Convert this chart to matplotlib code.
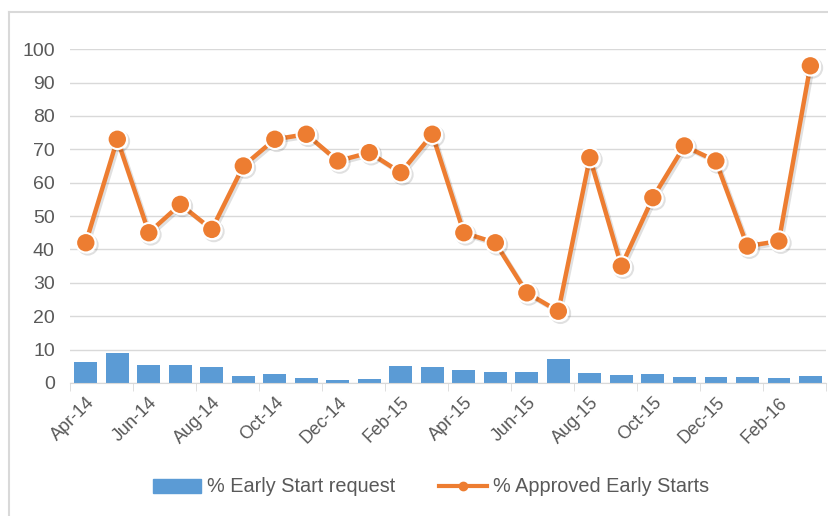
import matplotlib
matplotlib.use("Agg")
import matplotlib.pyplot as plt
import matplotlib.patheffects as pe
from matplotlib.lines import Line2D

months = ['Apr-14', 'May-14', 'Jun-14', 'Jul-14', 'Aug-14', 'Sep-14', 'Oct-14', 'Nov-14',
          'Dec-14', 'Jan-15', 'Feb-15', 'Mar-15', 'Apr-15', 'May-15', 'Jun-15', 'Jul-15',
          'Aug-15', 'Sep-15', 'Oct-15', 'Nov-15', 'Dec-15', 'Jan-16', 'Feb-16', 'Mar-16']
early_start_request = [6.3, 9.0, 5.3, 5.3, 4.7, 2.0, 2.8, 1.5, 0.8, 1.1, 5.0, 4.7,
                       4.0, 3.4, 3.4, 7.3, 3.1, 2.4, 2.8, 1.7, 1.7, 1.7, 1.4, 2.0]
approved_early_starts = [42, 73, 45, 53.5, 46, 65, 73, 74.5, 66.5, 69, 63, 74.5,
                         45, 42, 27, 21.5, 67.5, 35, 55.5, 71, 66.5, 41, 42.5, 95]

blue = '#5B9BD5'
orange = '#ED7D31'
grey_text = '#595959'

plt.rcParams['font.family'] = ['Liberation Sans', 'DejaVu Sans']

fig = plt.figure(figsize=(8.29, 5.16), dpi=100)
ax = fig.add_axes([0.0845, 0.2578, 0.912, 0.647])

x = list(range(len(months)))
ax.bar(x, early_start_request, width=0.72, color=blue, zorder=2)
ax.plot(x, approved_early_starts, color=orange, lw=3.2, marker='o', markersize=14,
        markerfacecolor=orange, markeredgecolor='white', markeredgewidth=1.5, zorder=3,
        path_effects=[pe.SimpleLineShadow(offset=(1.5, -1.5), alpha=0.12, shadow_color='black'),
                      pe.Normal()])

ax.set_ylim(0, 100)
ax.set_xlim(-0.5, len(months) - 0.5)
ax.set_yticks(range(0, 101, 10))
ax.yaxis.grid(True, color='#D9D9D9', lw=1)
ax.set_axisbelow(True)

ax.set_xticks(x[::2])
ax.set_xticklabels(months[::2], rotation=45, ha='right', rotation_mode='anchor')
ax.set_xticks([i - 0.5 for i in range(0, len(months) + 1, 2)], minor=True)
ax.tick_params(axis='x', which='major', length=0, pad=8, labelsize=13, colors=grey_text)
ax.tick_params(axis='x', which='minor', length=6, color='#D9D9D9')
ax.tick_params(axis='y', length=0, pad=11, labelsize=14, colors=grey_text)

for s in ['top', 'right', 'left']:
    ax.spines[s].set_visible(False)
ax.spines['bottom'].set_color('#D9D9D9')

# chart frame (left and top edges visible)
fig.add_artist(Line2D([9 / 829, 9 / 829], [0, 1 - 12 / 516], color='#D9D9D9', lw=1.5))
fig.add_artist(Line2D([9 / 829, 1], [1 - 12 / 516, 1 - 12 / 516], color='#D9D9D9', lw=1.5))

handles = [plt.Rectangle((0, 0), 1, 1, color=blue),
           Line2D([], [], color=orange, lw=3, marker='o', markersize=6,
                  markerfacecolor=orange, markeredgecolor=orange)]
fig.legend(handles, ['% Early Start request', '% Approved Early Starts'],
           loc='center', bbox_to_anchor=(0.52, 1 - 487 / 516), ncol=2, frameon=False,
           fontsize=14.3, labelcolor=grey_text, handlelength=2.4, handletextpad=0.3,
           columnspacing=2.2)

fig.savefig('out.png', dpi=100)
